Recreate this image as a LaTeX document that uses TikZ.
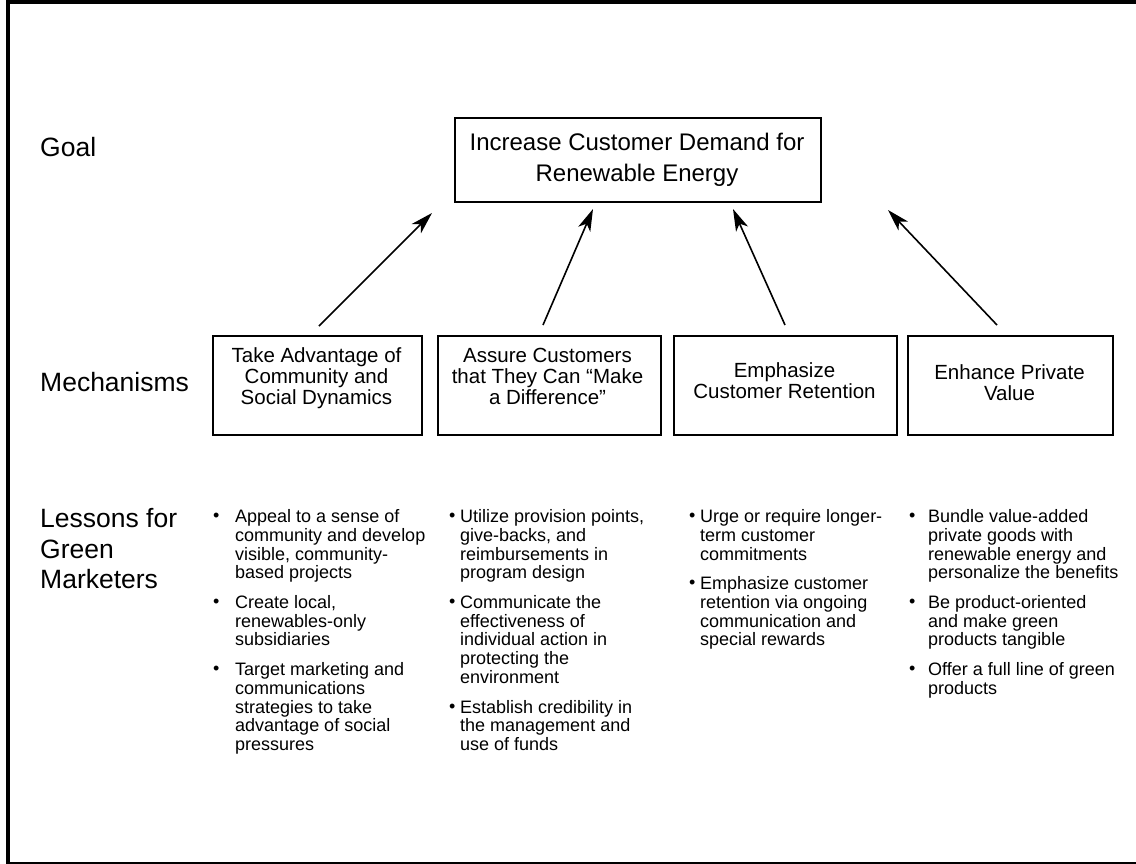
\documentclass[tikz,border=0pt]{standalone}
\usepackage{fontspec}
\setmainfont{Liberation Sans}
\usetikzlibrary{arrows.meta}
\newcommand{\bu}[1]{\makebox[#1][l]{\raisebox{1pt}{\fontsize{18}{18}\selectfont •}}}
\begin{document}
\begin{tikzpicture}[x=1pt,y=-1pt,
  lbl/.style={anchor=north west,inner sep=0pt,font=\fontsize{26.5}{30.5}\selectfont,align=left},
  mbox/.style={draw,line width=1.8pt,inner sep=0pt,anchor=north west},
  mtext/.style={anchor=north,inner sep=0pt,align=center,font=\fontsize{20.5}{21}\selectfont},
  lesson/.style={anchor=north west,inner sep=0pt,align=left,font=\fontsize{18}{18.7}\selectfont},
  arr/.style={line width=1.6pt,-{Stealth[length=22pt,width=13pt,inset=6pt]}}]
\useasboundingbox (0,0) rectangle (1136,863);
\draw[line width=4pt] (8,2) rectangle (1160,863.5);
% labels
\node[lbl] (lgoal) at (40,137.5) {Goal};
\node[lbl] (lmech) at (40,372) {Mechanisms};
\node[lbl] (lless) at (40,508.5) {Lessons for\\Green\\Marketers};
% goal box
\node[mbox,minimum width=366pt,minimum height=84pt] (goal) at (454,117) {};
\node[anchor=north,inner sep=0pt,align=center,font=\fontsize{24}{31}\selectfont] (goalt) at (637,133.4) {Increase Customer Demand for\\Renewable Energy};
% mechanism boxes
\node[mbox,minimum width=209pt,minimum height=99pt] (m1) at (212,335) {};
\node[mbox,minimum width=223pt,minimum height=99pt] (m2) at (437,335) {};
\node[mbox,minimum width=223pt,minimum height=99pt] (m3) at (673,335) {};
\node[mbox,minimum width=205pt,minimum height=99pt] (m4) at (907,335) {};
\node[mtext] (m1t) at (316.5,347.6) {Take Advantage of\\Community and\\Social Dynamics};
\node[mtext] (m2t) at (547.5,347.6) {Assure Customers\\that They Can “Make\\a Difference”};
\node[mtext] (m3t) at (784.5,362.6) {Emphasize\\Customer Retention};
\node[mtext] (m4t) at (1009.5,364.3) {Enhance Private\\Value};
% arrows
\coordinate (s1) at (319,326); \coordinate (e1) at (432,213);
\coordinate (s2) at (543,325); \coordinate (e2) at (593,209);
\coordinate (s3) at (785,325); \coordinate (e3) at (733,209);
\coordinate (s4) at (997,325); \coordinate (e4) at (888,210);
\draw[arr] (s1) -- (e1);
\draw[arr] (s2) -- (e2);
\draw[arr] (s3) -- (e3);
\draw[arr] (s4) -- (e4);
% lessons
\node[lesson] (c1) at (212.8,509.5) {%
\bu{22.2pt}Appeal to a sense of\\\hspace*{22.2pt}community and develop\\\hspace*{22.2pt}visible, community-\\\hspace*{22.2pt}based projects\\[11pt]%
\bu{22.2pt}Create local,\\\hspace*{22.2pt}renewables-only\\\hspace*{22.2pt}subsidiaries\\[11pt]%
\bu{22.2pt}Target marketing and\\\hspace*{22.2pt}communications\\\hspace*{22.2pt}strategies to take\\\hspace*{22.2pt}advantage of social\\\hspace*{22.2pt}pressures};
\node[lesson] (c2) at (448.8,509.5) {%
\bu{11.2pt}Utilize provision points,\\\hspace*{11.2pt}give-backs, and\\\hspace*{11.2pt}reimbursements in\\\hspace*{11.2pt}program design\\[11pt]%
\bu{11.2pt}Communicate the\\\hspace*{11.2pt}effectiveness of\\\hspace*{11.2pt}individual action in\\\hspace*{11.2pt}protecting the\\\hspace*{11.2pt}environment\\[11pt]%
\bu{11.2pt}Establish credibility in\\\hspace*{11.2pt}the management and\\\hspace*{11.2pt}use of funds};
\node[lesson] (c3) at (688.8,509.5) {%
\bu{11.2pt}Urge or require longer-\\\hspace*{11.2pt}term customer\\\hspace*{11.2pt}commitments\\[11pt]%
\bu{11.2pt}Emphasize customer\\\hspace*{11.2pt}retention via ongoing\\\hspace*{11.2pt}communication and\\\hspace*{11.2pt}special rewards};
\node[lesson] (c4) at (908.8,509.5) {%
\bu{19.2pt}Bundle value-added\\\hspace*{19.2pt}private goods with\\\hspace*{19.2pt}renewable energy and\\\hspace*{19.2pt}personalize the benefits\\[11pt]%
\bu{19.2pt}Be product-oriented\\\hspace*{19.2pt}and make green\\\hspace*{19.2pt}products tangible\\[11pt]%
\bu{19.2pt}Offer a full line of green\\\hspace*{19.2pt}products};
\end{tikzpicture}
\end{document}
